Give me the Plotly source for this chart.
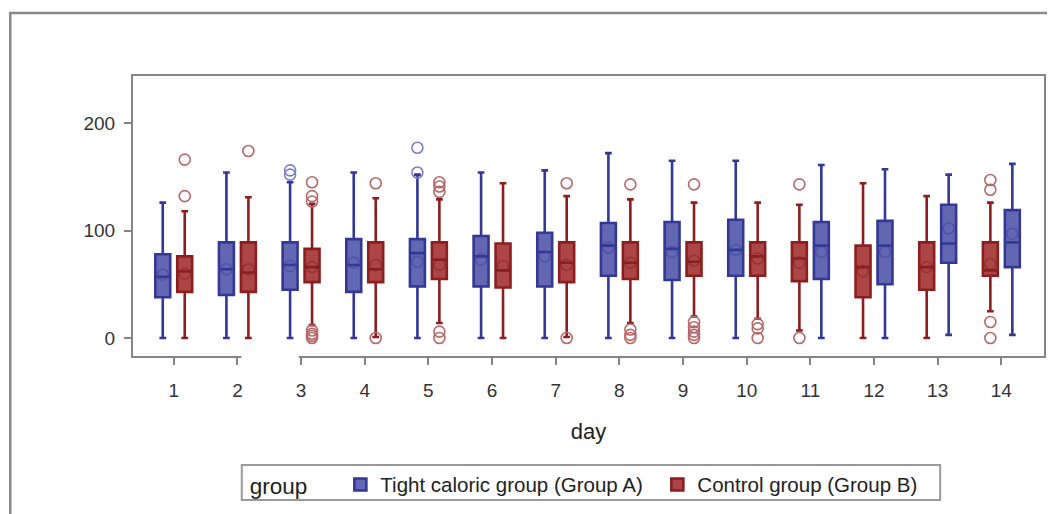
import plotly.graph_objects as go

days = list(range(1, 15))
group_names = ["Tight caloric group (Group A)", "Control group (Group B)"]

# Group A (blue) summary statistics per day
a_q1 = [38, 40, 45, 43, 48, 48, 48, 58, 54, 58, 55, 50, 70, 66]
a_med = [57, 64, 68, 68, 79, 76, 80, 86, 83, 82, 86, 86, 88, 89]
a_q3 = [78, 89, 89, 92, 92, 95, 98, 107, 108, 110, 108, 109, 124, 119]
a_lo = [0, 0, 0, 0, 0, 0, 0, 0, 0, 0, 0, 0, 3, 3]
a_hi = [126, 154, 145, 154, 152, 154, 156, 172, 165, 165, 161, 157, 152, 162]
a_mean = [59, 64, 67, 70, 71, 73, 76, 84, 80, 82, 80, 80, 102, 97]
a_out = [[], [], [156, 152], [], [177, 154], [], [], [], [], [], [], [], [], []]

# Group B (red) summary statistics per day
b_q1 = [43, 43, 52, 52, 55, 47, 52, 55, 58, 58, 53, 38, 45, 58]
b_med = [62, 61, 66, 64, 73, 63, 70, 70, 71, 76, 74, 66, 66, 63]
b_q3 = [76, 89, 83, 89, 89, 88, 89, 89, 89, 89, 89, 86, 89, 89]
b_lo = [0, 0, 12, 1, 14, 0, 1, 14, 20, 18, 7, 0, 0, 25]
b_hi = [118, 131, 125, 130, 129, 144, 132, 129, 126, 126, 124, 144, 132, 126]
b_mean = [60, 64, 66, 68, 68, 67, 68, 70, 72, 74, 70, 62, 66, 69]
b_out = [[166, 132], [174], [145, 132, 127, 7, 4, 2, 0], [144, 0], [145, 141, 136, 6, 0],
         [], [144, 0], [143, 8, 3, 0], [143, 15, 10, 6, 3, 0], [13, 9, 0], [143, 0],
         [], [], [147, 138, 15, 0]]

# side of each group's box within a day (A left for days 1-10, right for 11-14)
a_side = ["L"] * 10 + ["R"] * 4

colors = {
    "A": dict(line="#323893", fill="#6167b2", out="#7a7fc8", mean="rgba(60,66,155,0.55)"),
    "B": dict(line="#8b1f1f", fill="#ac4545", out="#b46a6a", mean="rgba(130,35,35,0.55)"),
}

fig = go.Figure()

def add_group(key, name, q1, med, q3, lo, hi, mean, outs, sides):
    c = colors[key]
    for side in ["L", "R"]:
        idx = [i for i, s in enumerate(sides) if s == side]
        if not idx:
            continue
        xs = [days[i] for i in idx]
        fig.add_trace(go.Box(
            x=xs, q1=[q1[i] for i in idx], median=[med[i] for i in idx],
            q3=[q3[i] for i in idx], lowerfence=[lo[i] for i in idx],
            upperfence=[hi[i] for i in idx],
            name=name, legendgroup=key, showlegend=(idx[0] == 0),
            offsetgroup=side, fillcolor=c["fill"],
            line=dict(color=c["line"], width=2.6), whiskerwidth=0.45,
            hoverinfo="skip",
        ))
        fig.add_trace(go.Scatter(
            x=xs, y=[mean[i] for i in idx], mode="markers", offsetgroup=side,
            marker=dict(symbol="circle-open", size=11, color=c["mean"], line=dict(width=1.5)),
            showlegend=False, hoverinfo="skip",
        ))
        ox, oy = [], []
        for i in idx:
            for v in outs[i]:
                ox.append(days[i])
                oy.append(v)
        if ox:
            fig.add_trace(go.Scatter(
                x=ox, y=oy, mode="markers", offsetgroup=side,
                marker=dict(symbol="circle-open", size=11, color=c["out"], line=dict(width=1.6)),
                showlegend=False, hoverinfo="skip",
            ))

b_side = ["R" if s == "L" else "L" for s in a_side]
add_group("A", group_names[0], a_q1, a_med, a_q3, a_lo, a_hi, a_mean, a_out, a_side)
add_group("B", group_names[1], b_q1, b_med, b_q3, b_lo, b_hi, b_mean, b_out, b_side)

axis_col = "#858585"
tick_font = dict(family="Liberation Sans, Arial, sans-serif", size=19, color="#333333")

fig.update_layout(
    width=1047, height=506,
    margin=dict(l=125, r=9, t=68, b=158),
    paper_bgcolor="white", plot_bgcolor="white",
    boxmode="group", boxgap=0.31, boxgroupgap=0.32,
    scattermode="group", scattergap=0.31,
    font=dict(family="Liberation Sans, Arial, sans-serif", color="#222222"),
    xaxis=dict(
        range=[0.36, 14.67], tickmode="array", tickvals=days, ticktext=[str(d) for d in days],
        showline=True, linecolor=axis_col, linewidth=2.2, mirror=True,
        ticks="outside", ticklen=7, tickwidth=2, tickcolor=axis_col,
        showgrid=False, zeroline=False, tickfont=tick_font, ticklabelstandoff=9,
        title=dict(text="day", font=dict(size=22, color="#222222"), standoff=24),
    ),
    yaxis=dict(
        range=[-16.7, 243.8], tickvals=[0, 100, 200],
        showline=True, linecolor=axis_col, linewidth=2.2, mirror=True,
        ticks="outside", ticklen=7, tickwidth=2, tickcolor=axis_col,
        showgrid=False, zeroline=False, tickfont=tick_font, ticklabelstandoff=5,
    ),
    legend=dict(
        orientation="h", x=0.126, xanchor="left", y=-0.388, yanchor="top",
        borderwidth=0, bgcolor="rgba(0,0,0,0)",
        entrywidth=272, entrywidthmode="pixels",
        title=dict(text="group    ", font=dict(size=22.5, color="#222222")),
        font=dict(size=20.5, color="#222222"),
    ),
    shapes=[
        dict(type="rect", xref="paper", yref="paper", x0=-0.1347, y0=-0.65, x1=1.05, y1=1.225,
             line=dict(color="#8a8a8a", width=2.5), layer="below"),
        dict(type="line", xref="paper", yref="paper", x0=0.119, x1=0.182, y0=0, y1=0,
             line=dict(color="white", width=4), layer="above"),
        dict(type="rect", xref="paper", yref="paper", x0=0.1194, x1=0.886, y0=-0.514, y1=-0.389,
             line=dict(color="#9a9a9a", width=2), layer="below"),
    ],
)

fig.write_html("out.html")
